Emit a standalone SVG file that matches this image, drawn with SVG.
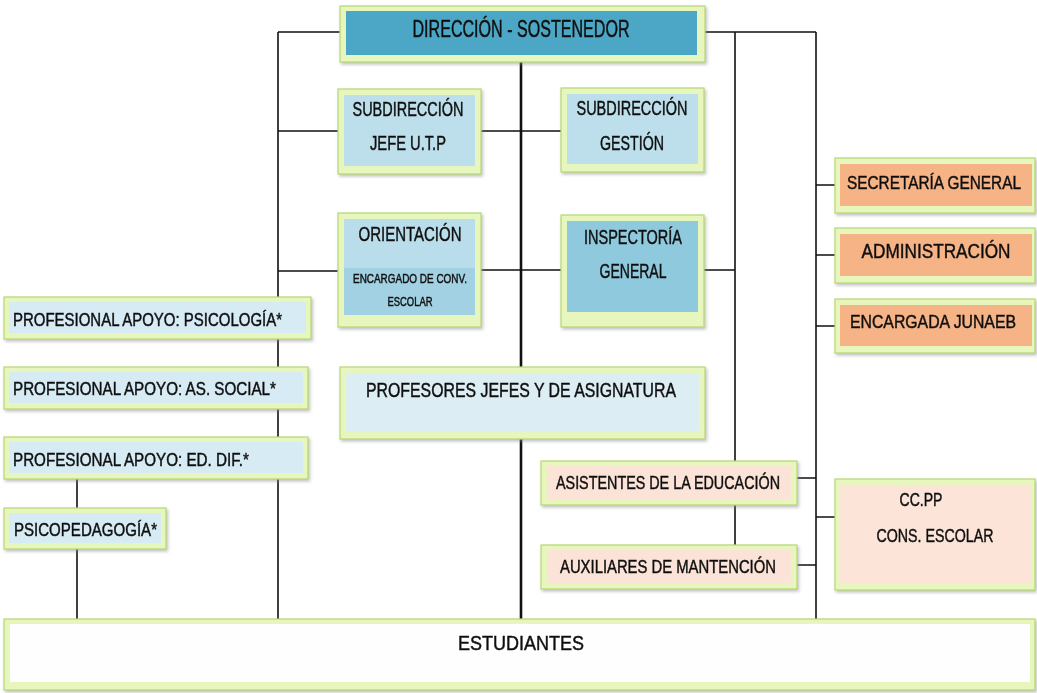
<svg xmlns="http://www.w3.org/2000/svg" width="1037" height="693" viewBox="0 0 1037 693">
<style>
.frame{fill:#e6f6bd;stroke:#b6d873;stroke-width:1.2}
.t{font-family:"Liberation Sans Narrow","Liberation Sans",Arial,sans-serif;fill:#111;stroke:#111;stroke-width:0.45;text-anchor:middle}
.l{font-family:"Liberation Sans Narrow","Liberation Sans",Arial,sans-serif;fill:#111;stroke:#111;stroke-width:0.45}
.c{stroke:#111;stroke-width:1.6;fill:none}
.c2{stroke:#111;stroke-width:2.6;fill:none}
</style>
<defs>
<filter id="sh" x="-5%" y="-10%" width="110%" height="130%">
<feDropShadow dx="1.5" dy="2" stdDeviation="1.5" flood-color="#888" flood-opacity="0.5"/>
</filter>
</defs>
<rect width="1037" height="693" fill="#ffffff"/>
<g id="connectors">
<path class="c" d="M278,32 H340 M278,32 V619 M278,131 H338 M278,271 H338"/>
<path class="c2" d="M521,62 V619"/>
<path class="c" d="M481,131 H561 M481,270 H561"/>
<path class="c" d="M705,32 H816 M735,32 V545 M704,270 H735 M816,32 V619"/>
<path class="c" d="M816,185 H835 M816,255 H835 M816,326 H835 M816,517 H835 M797,478 H816 M797,565 H816"/>
<path class="c" d="M77,479 V508 M77,549 V619"/>
</g>
<g id="n-direccion" filter="url(#sh)">
<rect class="frame" x="340" y="6" width="365" height="56"/>
<rect x="346" y="11" width="351" height="44" fill="#4ba7c5"/>
<text class="t" x="521" y="37" font-size="23" textLength="217" lengthAdjust="spacingAndGlyphs">DIRECCIÓN - SOSTENEDOR</text>
</g>
<g id="n-subutp" filter="url(#sh)">
<rect class="frame" x="338" y="89" width="143" height="85"/>
<rect x="344" y="95" width="131" height="71" fill="#bcdfeb"/>
<text class="t" x="408" y="116" font-size="20" textLength="111" lengthAdjust="spacingAndGlyphs">SUBDIRECCIÓN</text>
<text class="t" x="408" y="150" font-size="20" textLength="76" lengthAdjust="spacingAndGlyphs">JEFE U.T.P</text>
</g>
<g id="n-subgestion" filter="url(#sh)">
<rect class="frame" x="561" y="88" width="143" height="84"/>
<rect x="567" y="94" width="131" height="70" fill="#bcdfeb"/>
<text class="t" x="632" y="115" font-size="20" textLength="111" lengthAdjust="spacingAndGlyphs">SUBDIRECCIÓN</text>
<text class="t" x="632" y="150" font-size="20" textLength="64" lengthAdjust="spacingAndGlyphs">GESTIÓN</text>
</g>
<g id="n-orientacion" filter="url(#sh)">
<rect class="frame" x="338" y="213" width="143" height="114"/>
<rect x="344" y="219" width="131" height="49" fill="#b9ddeb"/>
<rect x="344" y="268" width="131" height="47" fill="#a2d1e3"/>
<text class="t" x="410" y="241" font-size="20" textLength="103" lengthAdjust="spacingAndGlyphs">ORIENTACIÓN</text>
<text class="t" x="410" y="283" font-size="12" stroke-width="0.3" textLength="114" lengthAdjust="spacingAndGlyphs">ENCARGADO DE CONV.</text>
<text class="t" x="410" y="306" font-size="12" stroke-width="0.3" textLength="45" lengthAdjust="spacingAndGlyphs">ESCOLAR</text>
</g>
<g id="n-inspectoria" filter="url(#sh)">
<rect class="frame" x="561" y="215" width="143" height="112"/>
<rect x="567" y="221" width="131" height="91" fill="#8fc9dd"/>
<text class="t" x="633" y="244" font-size="20" textLength="98" lengthAdjust="spacingAndGlyphs">INSPECTORÍA</text>
<text class="t" x="633" y="278" font-size="20" textLength="67" lengthAdjust="spacingAndGlyphs">GENERAL</text>
</g>
<g id="n-profesores" filter="url(#sh)">
<rect class="frame" x="340" y="367" width="365" height="72"/>
<rect x="346" y="373" width="353" height="58" fill="#dcedf4"/>
<text class="t" x="521" y="397" font-size="21" textLength="310" lengthAdjust="spacingAndGlyphs">PROFESORES JEFES Y DE ASIGNATURA</text>
</g>
<g id="n-psicologia" filter="url(#sh)">
<rect class="frame" x="4" y="297" width="307" height="42"/>
<rect x="9" y="302" width="297" height="31" fill="#d6ebf4"/>
<text class="l" x="13" y="326" font-size="18" textLength="269" lengthAdjust="spacingAndGlyphs">PROFESIONAL APOYO:  PSICOLOGÍA*</text>
</g>
<g id="n-associal" filter="url(#sh)">
<rect class="frame" x="4" y="367" width="304" height="42"/>
<rect x="9" y="372" width="294" height="31" fill="#d6ebf4"/>
<text class="l" x="13" y="395" font-size="18" textLength="263" lengthAdjust="spacingAndGlyphs">PROFESIONAL  APOYO:  AS. SOCIAL*</text>
</g>
<g id="n-eddif" filter="url(#sh)">
<rect class="frame" x="4" y="437" width="304" height="42"/>
<rect x="9" y="442" width="294" height="31" fill="#d6ebf4"/>
<text class="l" x="13" y="466" font-size="18" textLength="236" lengthAdjust="spacingAndGlyphs">PROFESIONAL  APOYO: ED. DIF.*</text>
</g>
<g id="n-psicopedagogia" filter="url(#sh)">
<rect class="frame" x="4" y="508" width="162" height="41"/>
<rect x="9" y="513" width="152" height="30" fill="#d6ebf4"/>
<text class="l" x="14" y="536" font-size="18" textLength="143" lengthAdjust="spacingAndGlyphs">PSICOPEDAGOGÍA*</text>
</g>
<g id="n-asistentes" filter="url(#sh)">
<rect class="frame" x="541" y="461" width="256" height="44"/>
<rect x="547" y="466" width="244" height="33" fill="#fbe3d8"/>
<text class="t" x="668" y="489" font-size="19" textLength="224" lengthAdjust="spacingAndGlyphs">ASISTENTES DE LA EDUCACIÓN</text>
</g>
<g id="n-auxiliares" filter="url(#sh)">
<rect class="frame" x="541" y="545" width="256" height="44"/>
<rect x="547" y="550" width="244" height="33" fill="#fbe3d8"/>
<text class="t" x="668" y="573" font-size="19" textLength="216" lengthAdjust="spacingAndGlyphs">AUXILIARES DE MANTENCIÓN</text>
</g>
<g id="n-secretaria" filter="url(#sh)">
<rect class="frame" x="835" y="158" width="200" height="55"/>
<rect x="840" y="164" width="192" height="42" fill="#f5b386"/>
<text class="t" x="934" y="189" font-size="19" textLength="174" lengthAdjust="spacingAndGlyphs">SECRETARÍA GENERAL</text>
</g>
<g id="n-administracion" filter="url(#sh)">
<rect class="frame" x="835" y="228" width="200" height="55"/>
<rect x="840" y="234" width="192" height="42" fill="#f5b386"/>
<text class="t" x="936" y="258" font-size="20" textLength="149" lengthAdjust="spacingAndGlyphs">ADMINISTRACIÓN</text>
</g>
<g id="n-junaeb" filter="url(#sh)">
<rect class="frame" x="835" y="299" width="200" height="54"/>
<rect x="840" y="305" width="192" height="41" fill="#f5b386"/>
<text class="t" x="933" y="328" font-size="19" textLength="166" lengthAdjust="spacingAndGlyphs">ENCARGADA JUNAEB</text>
</g>
<g id="n-ccpp" filter="url(#sh)">
<rect class="frame" x="835" y="479" width="200" height="111"/>
<rect x="840" y="485" width="192" height="98" fill="#fce5d8"/>
<text class="t" x="921" y="506" font-size="19" textLength="43" lengthAdjust="spacingAndGlyphs">CC.PP</text>
<text class="t" x="935" y="542" font-size="19" textLength="117" lengthAdjust="spacingAndGlyphs">CONS. ESCOLAR</text>
</g>
<g id="n-estudiantes" filter="url(#sh)">
<rect class="frame" x="4" y="619" width="1031" height="71"/>
<rect x="10" y="624" width="1020" height="58" fill="#fdfefd"/>
<text class="t" x="521" y="650" font-size="20" textLength="126" lengthAdjust="spacingAndGlyphs">ESTUDIANTES</text>
</g>
</svg>
